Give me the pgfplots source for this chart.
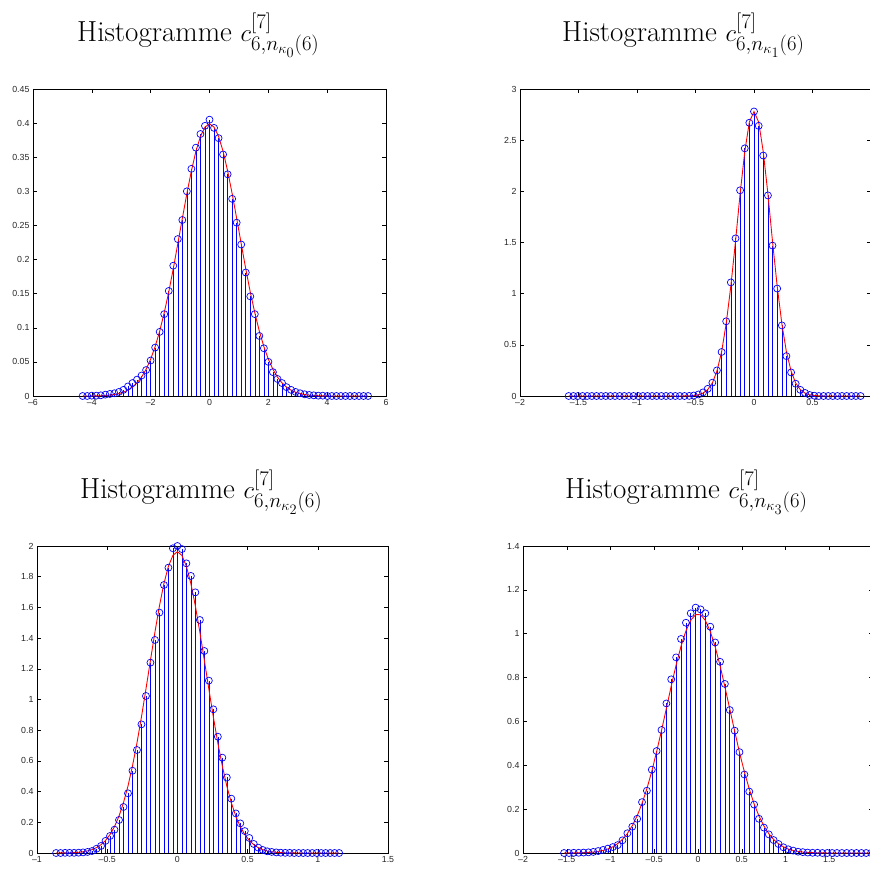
\documentclass[border=0pt]{standalone}
\usepackage{pgfplots}
\pgfplotsset{compat=1.18}
\usepackage{pgfplotstable}
\usepackage{fontspec}
\newfontfamily\tickfont{Liberation Sans}

\pgfplotstableread{
x s r
-4.312 0 0
-4.158 0 0
-4.004 0.0005 0.0001
-3.850 0.0005 0.0002
-3.696 0.001 0.0004
-3.542 0.002 0.0008
-3.388 0.003 0.0013
-3.234 0.004 0.0021
-3.080 0.006 0.0035
-2.926 0.009 0.0055
-2.772 0.014 0.0086
-2.618 0.019 0.0130
-2.464 0.024 0.0192
-2.310 0.030 0.0277
-2.156 0.038 0.0390
-2.002 0.052 0.0538
-1.848 0.071 0.0724
-1.694 0.094 0.0950
-1.540 0.120 0.1219
-1.386 0.154 0.1523
-1.232 0.191 0.1864
-1.078 0.230 0.2231
-0.924 0.258 0.2602
-0.770 0.300 0.2966
-0.616 0.333 0.3299
-0.462 0.364 0.3586
-0.308 0.384 0.3805
-0.154 0.396 0.3942
0 0.405 0.3989
0.154 0.393 0.3942
0.308 0.378 0.3805
0.462 0.354 0.3586
0.616 0.325 0.3299
0.770 0.289 0.2966
0.924 0.254 0.2602
1.078 0.222 0.2231
1.232 0.181 0.1864
1.386 0.146 0.1523
1.540 0.120 0.1219
1.694 0.088 0.0950
1.848 0.070 0.0724
2.002 0.050 0.0538
2.156 0.035 0.0390
2.310 0.025 0.0277
2.464 0.019 0.0192
2.618 0.013 0.0130
2.772 0.009 0.0086
2.926 0.006 0.0055
3.080 0.004 0.0035
3.234 0.0025 0.0021
3.388 0.0015 0.0013
3.542 0.001 0.0008
3.696 0.0005 0.0004
3.850 0.0005 0.0002
4.004 0 0.0001
4.158 0 0
4.312 0 0
4.466 0 0
4.620 0 0
4.774 0 0
4.928 0 0
5.082 0 0
5.236 0 0
5.390 0 0
}\TL

\pgfplotstableread{
x s r
-1.584 0 0
-1.544 0 0
-1.505 0 0
-1.465 0 0
-1.426 0 0
-1.386 0 0
-1.346 0 0
-1.307 0 0
-1.267 0 0
-1.228 0 0
-1.188 0 0
-1.148 0 0
-1.109 0 0
-1.069 0 0
-1.030 0 0
-0.990 0 0
-0.950 0 0
-0.911 0 0
-0.871 0 0
-0.832 0 0
-0.792 0 0
-0.752 0 0
-0.713 0 0
-0.673 0 0
-0.634 0 0
-0.594 0 0.0005
-0.554 0.001 0.0016
-0.515 0.005 0.0045
-0.475 0.015 0.0116
-0.436 0.035 0.028
-0.396 0.07 0.062
-0.356 0.13 0.127
-0.317 0.25 0.243
-0.277 0.43 0.431
-0.238 0.73 0.706
-0.198 1.11 1.074
-0.158 1.54 1.512
-0.119 2.01 1.974
-0.079 2.42 2.387
-0.040 2.67 2.676
0 2.78 2.78
0.040 2.64 2.676
0.079 2.35 2.387
0.119 1.96 1.974
0.158 1.47 1.512
0.198 1.05 1.074
0.238 0.69 0.706
0.277 0.39 0.431
0.317 0.23 0.243
0.356 0.12 0.127
0.396 0.06 0.062
0.436 0.03 0.028
0.475 0.01 0.0116
0.515 0.003 0.0045
0.554 0 0.0016
0.594 0 0.0005
0.634 0 0
0.673 0 0
0.713 0 0
0.752 0 0
0.792 0 0
0.832 0 0
0.871 0 0
0.911 0 0
}\TR

\pgfplotstableread{
x s r
-0.864 0 0.0002
-0.832 0 0.0004
-0.800 0.001 0.0008
-0.768 0.001 0.0015
-0.736 0.001 0.0027
-0.704 0.002 0.0048
-0.672 0.004 0.0082
-0.640 0.007 0.0136
-0.608 0.013 0.0221
-0.576 0.028 0.0350
-0.544 0.046 0.0541
-0.512 0.079 0.0815
-0.480 0.111 0.120
-0.448 0.152 0.172
-0.416 0.215 0.240
-0.384 0.300 0.328
-0.352 0.389 0.436
-0.320 0.536 0.567
-0.288 0.671 0.717
-0.256 0.838 0.886
-0.224 1.023 1.068
-0.192 1.240 1.255
-0.160 1.388 1.439
-0.128 1.566 1.609
-0.096 1.746 1.755
-0.064 1.859 1.868
-0.032 1.985 1.939
0 2.000 1.963
0.032 1.980 1.939
0.064 1.887 1.868
0.096 1.805 1.755
0.128 1.698 1.609
0.160 1.518 1.439
0.192 1.316 1.255
0.224 1.123 1.068
0.256 0.936 0.886
0.288 0.758 0.717
0.320 0.621 0.567
0.352 0.492 0.436
0.384 0.354 0.328
0.416 0.258 0.240
0.448 0.193 0.172
0.480 0.143 0.120
0.512 0.098 0.0815
0.544 0.059 0.0541
0.576 0.035 0.0350
0.608 0.020 0.0221
0.640 0.011 0.0136
0.672 0.007 0.0082
0.704 0.004 0.0048
0.736 0.002 0.0027
0.768 0.001 0.0015
0.800 0.001 0.0008
0.832 0 0.0004
0.864 0 0.0002
0.896 0 0.0001
0.928 0 0
0.960 0 0
0.992 0 0
1.024 0 0
1.056 0 0
1.088 0 0
1.120 0 0
1.152 0 0
}\BL

\pgfplotstableread{
x s r
-1.531 0 0.0001
-1.475 0 0.0003
-1.420 0.001 0.0005
-1.364 0.001 0.0008
-1.308 0.002 0.0015
-1.252 0.003 0.0026
-1.197 0.005 0.0044
-1.141 0.009 0.0073
-1.085 0.014 0.0118
-1.030 0.020 0.0184
-0.974 0.027 0.0283
-0.918 0.036 0.0427
-0.863 0.058 0.0622
-0.807 0.090 0.0890
-0.751 0.120 0.1245
-0.695 0.156 0.1697
-0.640 0.232 0.2258
-0.584 0.284 0.2935
-0.528 0.380 0.3728
-0.473 0.465 0.4618
-0.417 0.561 0.5588
-0.361 0.682 0.6601
-0.306 0.792 0.7613
-0.250 0.892 0.8574
-0.194 0.976 0.9430
-0.138 1.050 1.0126
-0.083 1.093 1.0617
-0.027 1.119 1.0870
0.029 1.111 1.0866
0.084 1.093 1.0606
0.140 1.032 1.0108
0.196 0.960 0.9406
0.252 0.872 0.8547
0.307 0.771 0.7582
0.363 0.652 0.6568
0.419 0.558 0.5556
0.474 0.460 0.4588
0.530 0.358 0.3700
0.586 0.280 0.2914
0.641 0.221 0.2240
0.697 0.156 0.1682
0.753 0.116 0.1233
0.809 0.085 0.0882
0.864 0.059 0.0617
0.920 0.041 0.0421
0.976 0.026 0.0280
1.031 0.017 0.0182
1.087 0.011 0.0116
1.143 0.006 0.0072
1.198 0.004 0.0043
1.254 0.002 0.0026
1.310 0.001 0.0015
1.366 0.001 0.0008
1.421 0 0.0005
1.477 0 0.0002
1.533 0 0.0001
1.588 0 0
1.644 0 0
1.700 0 0
1.755 0 0
1.811 0 0
1.867 0 0
1.922 0 0
1.978 0 0
}\BR

\pgfplotsset{
  hist/.style={
    anchor=south west, scale only axis, clip=false,
    axis line style={black, line width=0.7pt},
    tick align=inside, major tick length=4pt,
    every tick/.style={black, line width=0.5pt},
    ticklabel style={font=\tickfont\fontsize{8.8}{10}\selectfont, text=black!85},
    /pgf/number format/assume math mode=true,
    minor tick num=0,
  },
  stem/.style={ycomb, blue, line width=0.55pt, mark=o, mark size=3.5pt,
    mark options={blue, line width=0.7pt, solid}},
  fit/.style={red, line width=0.9pt, mark=none},
}

\begin{document}
\begin{tikzpicture}
\useasboundingbox (0pt,0pt) rectangle (870pt,868pt);
\clip (0pt,0pt) rectangle (870pt,868pt);

\node[anchor=base west, inner sep=0pt] at (77pt,826pt) {\fontsize{29}{34}\selectfont Histogramme $c^{[7]}_{6,n_{\kappa_0}(6)}$};
\node[anchor=base west, inner sep=0pt] at (562pt,826pt) {\fontsize{29}{34}\selectfont Histogramme $c^{[7]}_{6,n_{\kappa_1}(6)}$};
\node[anchor=base west, inner sep=0pt] at (80pt,369pt) {\fontsize{29}{34}\selectfont Histogramme $c^{[7]}_{6,n_{\kappa_2}(6)}$};
\node[anchor=base west, inner sep=0pt] at (565pt,369pt) {\fontsize{29}{34}\selectfont Histogramme $c^{[7]}_{6,n_{\kappa_3}(6)}$};

\begin{axis}[hist, at={(33pt,472pt)}, width=353pt, height=307pt,
  xmin=-6, xmax=6, ymin=0, ymax=0.45,
  xtick={-6,-4,-2,0,2,4,6},
  xticklabels={–6,–4,–2,0,2,4,6},
  ytick={0,0.05,0.1,0.15,0.2,0.25,0.3,0.35,0.4,0.45},
  yticklabels={0,0.05,0.1,0.15,0.2,0.25,0.3,0.35,0.4,0.45}]
\addplot[stem] table[x=x,y=s]{\TL};
\addplot[fit] table[x=x,y=r]{\TL};
\end{axis}

\begin{axis}[hist, at={(520pt,472pt)}, width=351pt, height=307pt,
  xmin=-2, xmax=1, ymin=0, ymax=3,
  xtick={-2,-1.5,-1,-0.5,0,0.5,1},
  xticklabels={–2,–1.5,–1,–0.5,0,0.5,{}},
  ytick={0,0.5,1,1.5,2,2.5,3},
  yticklabels={0,0.5,1,1.5,2,2.5,3}]
\addplot[stem] table[x=x,y=s]{\TR};
\addplot[fit] table[x=x,y=r]{\TR};
\end{axis}

\begin{axis}[hist, at={(37pt,15pt)}, width=351pt, height=307pt,
  xmin=-1, xmax=1.5, ymin=0, ymax=2,
  xtick={-1,-0.5,0,0.5,1,1.5},
  xticklabels={–1,–0.5,0,0.5,1,1.5},
  ytick={0,0.2,0.4,0.6,0.8,1,1.2,1.4,1.6,1.8,2},
  yticklabels={0,0.2,0.4,0.6,0.8,1,1.2,1.4,1.6,1.8,2}]
\addplot[stem] table[x=x,y=s]{\BL};
\addplot[fit] table[x=x,y=r]{\BL};
\end{axis}

\begin{axis}[hist, at={(523pt,15pt)}, width=350pt, height=307pt,
  xmin=-2, xmax=2, ymin=0, ymax=1.4,
  xtick={-2,-1.5,-1,-0.5,0,0.5,1,1.5,2},
  xticklabels={–2,–1.5,–1,–0.5,0,0.5,1,1.5,{}},
  ytick={0,0.2,0.4,0.6,0.8,1,1.2,1.4},
  yticklabels={0,0.2,0.4,0.6,0.8,1,1.2,1.4}]
\addplot[stem] table[x=x,y=s]{\BR};
\addplot[fit] table[x=x,y=r]{\BR};
\end{axis}
\end{tikzpicture}
\end{document}
